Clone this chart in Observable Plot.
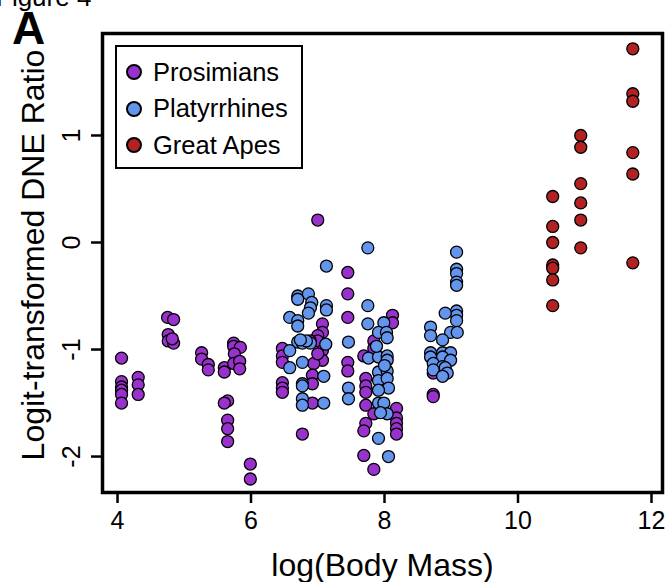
<!DOCTYPE html>
<html>
<head>
<meta charset="utf-8">
<script src="https://cdn.jsdelivr.net/npm/d3@7"></script>
<script src="https://cdn.jsdelivr.net/npm/@observablehq/plot@0.6"></script>
<style>
  html, body { margin: 0; padding: 0; background: #fff; }
  #wrap { position: relative; width: 666px; height: 582px; overflow: hidden; font-family: "Liberation Sans", Arial, sans-serif; }
  #figlabel { position: absolute; left: -4px; top: -16px; font-size: 26px; line-height: 26px; color: #000; white-space: nowrap; }
  #panel { position: absolute; left: 12px; top: 11px; font-size: 46px; line-height: 34px; font-weight: bold; color: #000; }
  #legend { position: absolute; left: 115px; top: 45px; width: 184px; height: 120px; border: 2px solid #000; background: #fff; box-sizing: content-box; }
  .item { position: absolute; left: 0; height: 30px; display: flex; align-items: center; font-size: 25.5px; white-space: nowrap; }
  .sw { display: inline-block; width: 12px; height: 12px; border-radius: 50%; border: 2px solid #000; margin-left: 9px; margin-right: 11px; }
</style>
</head>
<body>
<div id="wrap"></div>
<script>
// ---- data ----
const groups = ["Prosimians", "Platyrrhines", "Great Apes"];
const groupColors = ["#9932CC", "#6495ED", "#B22222"];

const prosimX = [4.06,4.06,4.06,4.06,4.06,4.06, 4.31,4.31,4.31,
  4.75,4.84,4.76,4.76,4.84,4.82, 5.26,5.26,5.36,5.36,
  5.74,5.74,5.84,5.75,5.60,5.60,5.74,5.83,5.83,
  5.65,5.60,5.65,5.65,5.65, 5.99,5.99,
  6.47,6.47,6.47,6.47,6.47,6.47,
  7.00,7.07,7.07,7.00,7.00,7.07,7.07,6.94,6.92,6.92,6.92,6.77,7.00,6.89,
  7.45,7.45,7.45,7.45,7.45,
  8.12,8.12,7.84,7.84,7.69,7.72,7.72,7.72,7.72,7.72,7.69,7.69,7.84,7.84,
  8.18,8.18,8.18,8.18,8.18, 8.73,8.73,8.73];
const prosimY = [-1.08,-1.30,-1.35,-1.38,-1.42,-1.50, -1.26,-1.33,-1.42,
  -0.70,-0.72,-0.86,-0.92,-0.94,-0.90, -1.03,-1.09,-1.14,-1.19,
  -0.94,-0.97,-0.98,-1.04,-1.17,-1.21,-1.13,-1.11,-1.18,
  -1.48,-1.50,-1.66,-1.74,-1.86, -2.07,-2.21,
  -0.99,-1.06,-1.12,-1.31,-1.36,-1.40,
  0.21,-0.76,-0.84,-0.87,-0.92,-1.01,-1.10,-1.13,-1.24,-1.32,-1.50,-1.79,-1.04,-0.92,
  -0.28,-0.48,-0.70,-1.12,-1.20,
  -0.68,-0.75,-0.92,-0.99,-1.06,-1.27,-1.34,-1.40,-1.52,-1.69,-1.76,-1.99,-2.12,-1.60,
  -1.55,-1.64,-1.69,-1.74,-1.79, -1.22,-1.42,-1.44];

const platyX = [6.70,6.70,6.86,6.91,6.89,6.86,7.13,7.13,6.58,6.70,6.70,6.70,6.77,6.89,7.12,
  6.58,6.58,6.77,7.09,6.77,6.77,6.77,6.77,7.09,7.13,6.83,6.74,
  7.46,7.46,7.46,
  7.75,7.75,7.75,7.99,7.91,8.03,8.04,7.76,7.91,8.04,8.04,7.91,8.04,7.91,8.04,8.06,7.91,7.91,7.99,8.04,7.94,7.91,8.06,8.00,7.88,
  9.08,9.08,9.08,9.08,9.08,9.08,9.08,9.08,8.91,8.69,8.69,8.99,9.09,8.87,8.69,8.69,8.87,8.99,8.87,8.99,8.73,8.87,8.73,8.91,8.94,8.87];
const platyY = [-0.50,-0.53,-0.48,-0.56,-0.61,-0.66,-0.59,-0.63,-0.70,-0.73,-0.78,-0.93,-0.94,-0.94,-0.95,
  -1.01,-1.17,-1.12,-1.25,-1.32,-1.34,-1.46,-1.52,-1.50,-0.22,-0.92,-0.91,
  -0.93,-1.36,-1.46,
  -0.05,-0.59,-0.76,-0.75,-0.84,-0.84,-0.89,-1.08,-1.07,-1.06,-1.10,-1.21,-1.20,-1.29,-1.27,-1.36,-1.38,-1.50,-1.50,-1.60,-1.59,-1.83,-2.00,-1.15,-0.97,
  -0.09,-0.25,-0.29,-0.37,-0.40,-0.64,-0.68,-0.73,-0.66,-0.79,-0.87,-0.84,-0.84,-0.91,-1.03,-1.07,-1.03,-1.03,-1.07,-1.10,-1.13,-1.16,-1.19,-1.17,-1.22,-1.25];

const apeX = [10.52,10.52,10.52,10.52,10.52,10.52,10.52,
  10.94,10.94,10.94,10.94,10.94,10.94,
  11.72,11.72,11.72,11.72,11.72,11.72];
const apeY = [0.43,0.15,0.00,-0.21,-0.24,-0.35,-0.59,
  1.00,0.89,0.55,0.37,0.21,-0.05,
  1.81,1.39,1.32,0.84,0.64,-0.19];

const xTicks = [4, 6, 8, 10, 12];
const yTicks = [-2, -1, 0, 1];
const xTitle = "log(Body Mass)";
const yTitle = "Logit-transformed DNE Ratio";

// ---- build table ----
const rows = [];
[[prosimX, prosimY], [platyX, platyY], [apeX, apeY]].forEach(([xs, ys], g) => {
  xs.forEach((x, i) => rows.push({x, y: ys[i], group: groups[g]}));
});

const font = "'Liberation Sans', Arial, sans-serif";
const chart = Plot.plot({
  width: 666,
  height: 582,
  marginLeft: 102,
  marginRight: 4,
  marginTop: 33,
  marginBottom: 90,
  style: {fontFamily: font, background: "white", color: "black"},
  x: {domain: [3.775, 12.165]},
  y: {domain: [-2.336, 1.953]},
  color: {domain: groups, range: groupColors},
  marks: [
    Plot.axisX({ticks: xTicks, tickSize: 11, strokeWidth: 2.5, tickPadding: 8, fontSize: 25, tickFormat: d => String(d), label: null}),
    Plot.axisY({ticks: yTicks, tickSize: 11, strokeWidth: 2.5, text: null, label: null}),
    Plot.text(yTicks, {y: d => d, text: d => String(d), frameAnchor: "left", dx: -31, rotate: -90, fontSize: 25, textAnchor: "middle", lineAnchor: "middle"}),
    Plot.text([xTitle], {frameAnchor: "bottom", dy: 73, fontSize: 32, lineAnchor: "middle"}),
    Plot.text([yTitle], {frameAnchor: "left", dx: -69, dy: -8, rotate: -90, fontSize: 32, textAnchor: "middle", lineAnchor: "middle"}),
    Plot.dot(rows, {x: "x", y: "y", fill: "group", stroke: "black", strokeWidth: 1.3, r: 6}),
    Plot.frame({stroke: "black", strokeWidth: 3.5})
  ]
});

const wrap = document.getElementById("wrap");
wrap.appendChild(chart);

const fig = document.createElement("div");
fig.id = "figlabel"; fig.textContent = "Figure 4";
wrap.appendChild(fig);
const pan = document.createElement("div");
pan.id = "panel"; pan.textContent = "A";
wrap.appendChild(pan);

const leg = document.createElement("div");
leg.id = "legend";
groups.forEach((g, i) => {
  const it = document.createElement("div");
  it.className = "item";
  it.style.top = (10 + i * 36.5) + "px";
  const sw = document.createElement("span");
  sw.className = "sw";
  sw.style.background = groupColors[i];
  it.appendChild(sw);
  it.appendChild(document.createTextNode(g));
  leg.appendChild(it);
});
wrap.appendChild(leg);
</script>
</body>
</html>
